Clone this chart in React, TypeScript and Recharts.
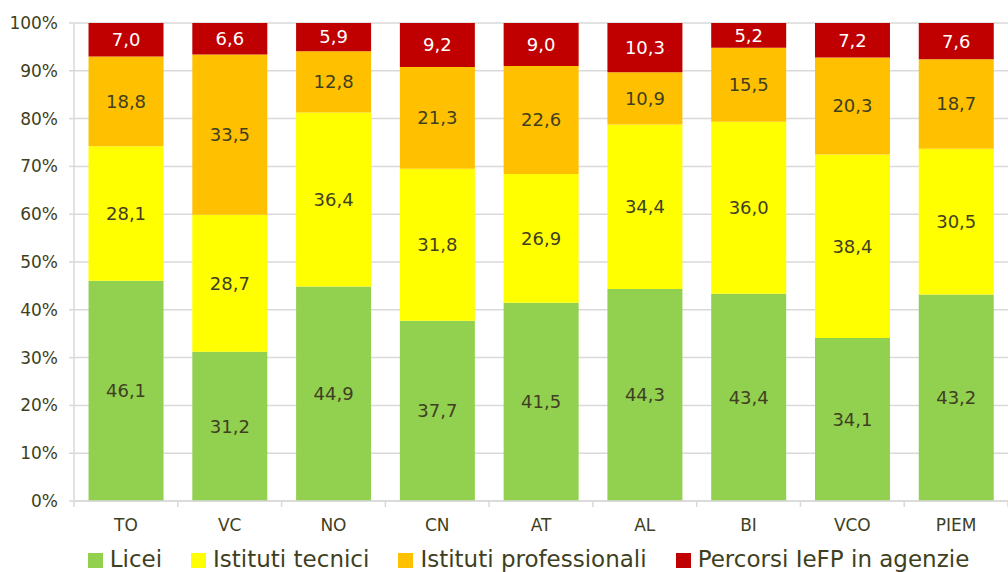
import {BarChart, Bar, XAxis, YAxis, Legend, CartesianGrid, LabelList} from "recharts";

const province = ["TO", "VC", "NO", "CN", "AT", "AL", "BI", "VCO", "PIEM"];
const licei = [46.1, 31.2, 44.9, 37.7, 41.5, 44.3, 43.4, 34.1, 43.2];
const tecnici = [28.1, 28.7, 36.4, 31.8, 26.9, 34.4, 36.0, 38.4, 30.5];
const professionali = [18.8, 33.5, 12.8, 21.3, 22.6, 10.9, 15.5, 20.3, 18.7];
const iefp = [7.0, 6.6, 5.9, 9.2, 9.0, 10.3, 5.2, 7.2, 7.6];
const seriesNames = ["Licei", "Istituti tecnici", "Istituti professionali", "Percorsi IeFP in agenzie"];
const yTicks = [0, 0.1, 0.2, 0.3, 0.4, 0.5, 0.6, 0.7, 0.8, 0.9, 1];

const data = province.map((name, i) => ({
    name,
    licei: licei[i],
    tecnici: tecnici[i],
    professionali: professionali[i],
    iefp: iefp[i],
}));

const FONT = "'DejaVu Sans', sans-serif";
const TEXT = "#3f3f22";
const GRID = "#d9d9d9";

const fmt = (v: any) => Number(v).toFixed(1).replace(".", ",");

// category tick with small marks on the band edges, like the original
const XTick = (props: any) => {
    const {x, y, payload, index} = props;
    const half = payload.offset || 0;
    const last = index === province.length - 1;
    return (
        <g>
            <line x1={x - half} x2={x - half} y1={y - 18} y2={y - 12} stroke={GRID} strokeWidth={1.5}/>
            {last && <line x1={x + half} x2={x + half} y1={y - 18} y2={y - 12} stroke={GRID} strokeWidth={1.5}/>}
            <text x={x} y={y} dy="0.72em" textAnchor="middle" fill={TEXT} fontSize={17} fontFamily={FONT}>
                {payload.value}
            </text>
        </g>
    );
};

const App = () => {
    return (
        <div style={{position: "absolute", left: 0, top: 0, fontFamily: FONT}}>
            <BarChart
                width={1008}
                height={572}
                data={data}
                stackOffset="expand"
                barCategoryGap="14%"
                margin={{top: 23, right: 0, left: 0, bottom: 0}}
            >
                <CartesianGrid vertical={false} stroke={GRID} strokeWidth={1.5}/>
                <XAxis
                    dataKey="name"
                    stroke={GRID}
                    strokeWidth={1.5}
                    tickLine={false}
                    tickSize={0}
                    tickMargin={18}
                    tick={<XTick/>}
                    height={45}
                />
                <YAxis
                    width={74}
                    ticks={yTicks}
                    domain={[0, 1]}
                    stroke={GRID}
                    strokeWidth={1.5}
                    tickSize={5}
                    tickMargin={11}
                    tickFormatter={(v: number) => `${Math.round(v * 100)}%`}
                    tick={{fill: TEXT, fontSize: 17, fontFamily: FONT}}
                />
                <Legend
                    verticalAlign="bottom"
                    iconType="square"
                    iconSize={15}
                    itemSorter={(item: any) => seriesNames.indexOf(item.value)}
                    wrapperStyle={{fontSize: 23, fontFamily: FONT, color: TEXT, lineHeight: "26px", paddingLeft: 39}}
                    formatter={(value: string) => <span style={{color: TEXT, marginLeft: 3, marginRight: 19}}>{value}</span>}
                />
                <Bar dataKey="licei" name={seriesNames[0]} stackId="a" fill="#92d050" isAnimationActive={false}>
                    <LabelList dataKey="licei" position="center" formatter={fmt} fill={TEXT} fontSize={18} fontFamily={FONT}/>
                </Bar>
                <Bar dataKey="tecnici" name={seriesNames[1]} stackId="a" fill="#ffff00" isAnimationActive={false}>
                    <LabelList dataKey="tecnici" position="center" formatter={fmt} fill={TEXT} fontSize={18} fontFamily={FONT}/>
                </Bar>
                <Bar dataKey="professionali" name={seriesNames[2]} stackId="a" fill="#ffc000" isAnimationActive={false}>
                    <LabelList dataKey="professionali" position="center" formatter={fmt} fill={TEXT} fontSize={18} fontFamily={FONT}/>
                </Bar>
                <Bar dataKey="iefp" name={seriesNames[3]} stackId="a" fill="#c00000" isAnimationActive={false}>
                    <LabelList dataKey="iefp" position="center" formatter={fmt} fill="#ffffff" fontSize={18} fontFamily={FONT}/>
                </Bar>
            </BarChart>
        </div>
    );
};

export default App;
